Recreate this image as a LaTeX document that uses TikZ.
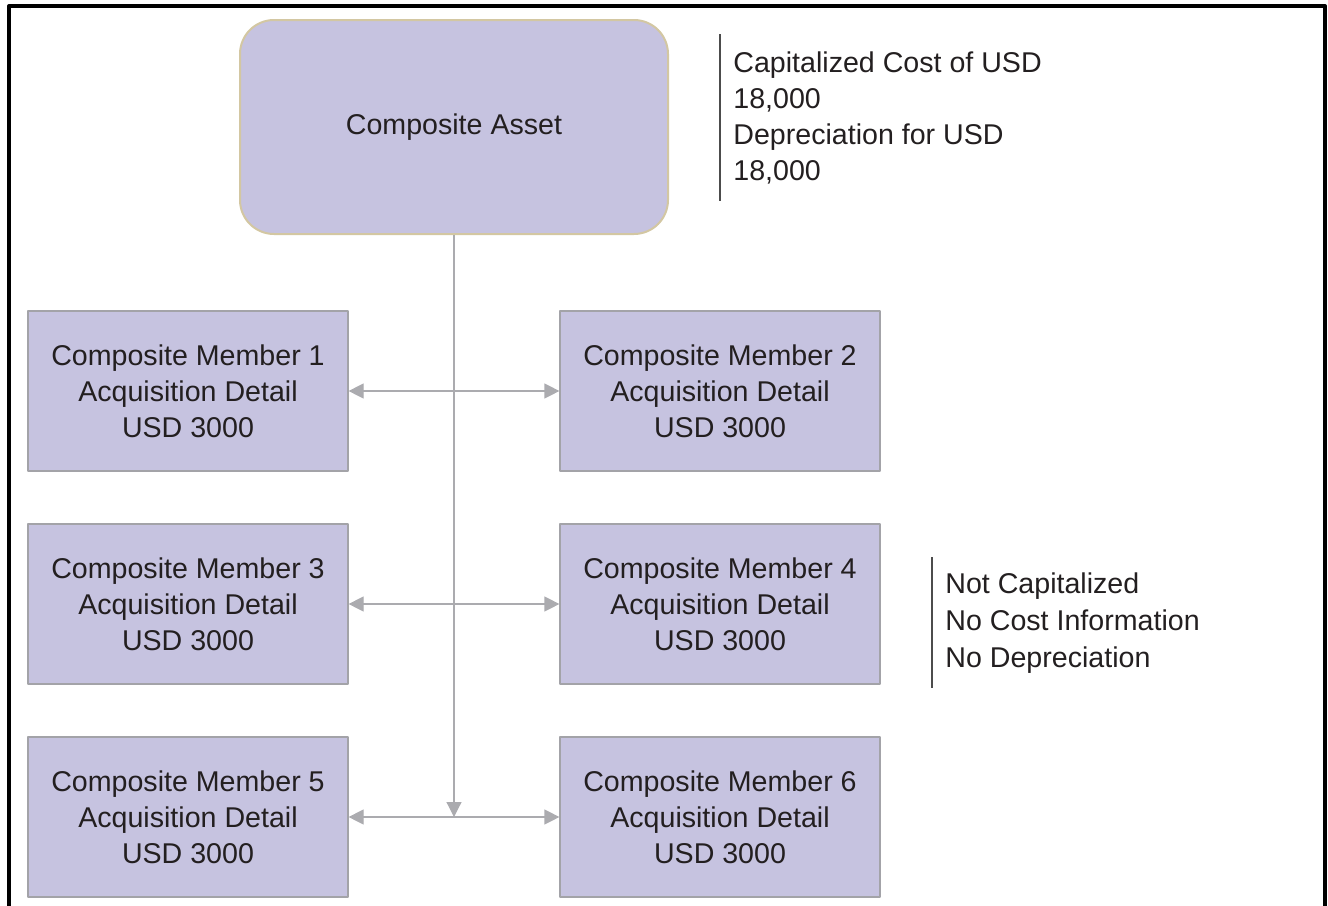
\documentclass[tikz,border=0pt]{standalone}
\usepackage{fontspec}
\setmainfont{Liberation Sans}
\usetikzlibrary{arrows.meta}
\definecolor{boxfill}{HTML}{C6C3E0}
\definecolor{boxline}{HTML}{A3A3A8}
\definecolor{assetline}{HTML}{D3C7A2}
\definecolor{linkgray}{HTML}{ABABAF}
\definecolor{txt}{HTML}{231F20}
\begin{document}
\begin{tikzpicture}[x=0.5pt,y=-0.5pt,font=\fontsize{14.3}{18}\selectfont,line join=round,>={Triangle[length=7.5pt,width=7.5pt]}]
	\tikzset{
		member/.style={draw=boxline,fill=boxfill,line width=0.6pt,minimum width=160pt,minimum height=80pt,align=center,text=txt,inner sep=0pt},
		asset/.style={member,draw=assetline,line width=1pt,rounded corners=17pt,minimum width=214pt,minimum height=107pt},
		note/.style={anchor=north west,align=left,inner xsep=6.5pt,inner ysep=8.5pt,text=txt},
		link/.style={draw=linkgray,line width=0.6pt}
	}
	\useasboundingbox (0,0) rectangle (1328,905);
	\draw[line width=2pt] (9,910)--(9,6)--(1325,6)--(1325,910);
	\node[asset] (asset) at (454,127) {Composite Asset};
	\foreach \n/\x/\y in {1/188/391,2/720/391,3/188/604,4/720/604,5/188/817,6/720/817}
	\node[member] (m\n) at (\x,\y) {Composite Member \n\\Acquisition Detail\\USD 3000};
	\node[note] (capnote) at (720,34) {Capitalized Cost of USD\\18,000\\Depreciation for USD\\18,000};
	\node[note,inner ysep=7.5pt,font=\fontsize{14.3}{18.5}\selectfont] (m4note) at (932,557) {Not Capitalized\\No Cost Information\\No Depreciation};
	\draw[line width=0.6pt,black!70] (capnote.north west)--(capnote.south west);
	\draw[line width=0.6pt,black!70] (m4note.north west)--(m4note.south west);
	\coordinate (j) at (m5.east -| asset.south);
	\foreach \a/\b in {1/2,3/4,5/6}
	\draw[link,<->] (m\a)--(m\b);
	\draw[link,->] (asset.south)--(j);
\end{tikzpicture}
\end{document}
